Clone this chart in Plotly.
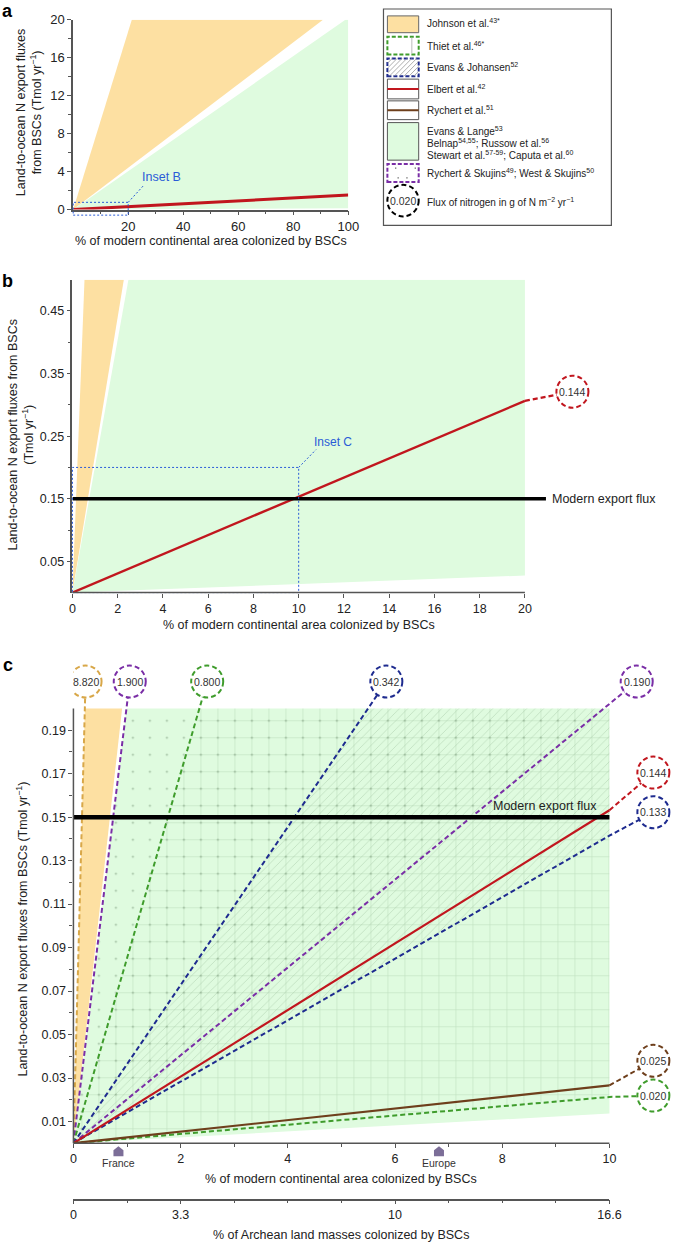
import plotly.graph_objects as go

W, H = 685, 1251

# ------------------------------------------------------------------ data
# N flux rates (g N m^-2 yr^-1) written in the circles of panel c
flux_labels = ["8.820", "1.900", "0.800", "0.342", "0.190", "0.144", "0.133", "0.025", "0.020"]
flux_values = [8.820, 1.900, 0.800, 0.342, 0.190, 0.144, 0.133, 0.025, 0.020]
flux_source = ["Johnson", "Rychert & Skujins", "Thiet", "Evans & Johansen",
               "Rychert & Skujins", "Elbert", "Evans & Johansen", "Rychert", "Thiet"]

# flux ranges (g N m^-2 yr^-1) drawn as shaded wedges
johnson_range = [2.07, 8.82]
crust_range = [0.0128, 1.90]          # Evans & Lange; Belnap; Russow; Stewart; Caputa
thiet_range = [0.020, 0.800]
evans_johansen_range = [0.133, 0.342]
rychert_skujins_range = [0.190, 1.900]

modern_export_flux = 0.15             # Tmol yr^-1
elbert_flux = 0.144

# vertical placement of the right-hand flux circles in panel c (Tmol yr^-1)
right_circle_y = {"0.144": 0.1705, "0.133": 0.1523, "0.025": 0.0379, "0.020": 0.0219}
panel_b_circle = (22.1, 0.321)

landmark_names = ["France", "Europe"]
landmark_pct = [0.84, 6.82]

# tick definitions
a_xticks = [20, 40, 60, 80, 100]
a_xminor = [10, 30, 50, 70, 90]
a_yticks = [0, 4, 8, 12, 16, 20]
a_yminor = [2, 6, 10, 14, 18]
b_xticks = [0, 2, 4, 6, 8, 10, 12, 14, 16, 18, 20]
b_yticks = [0.05, 0.15, 0.25, 0.35, 0.45]
b_yminor = [0.1, 0.2, 0.3, 0.4]
c_xticks = [0, 2, 4, 6, 8, 10]
c_xminor = [1, 3, 5, 7, 9]
c_yticks = [0.01, 0.03, 0.05, 0.07, 0.09, 0.11, 0.13, 0.15, 0.17, 0.19]
c_yminor = [0.02, 0.04, 0.06, 0.08, 0.10, 0.12, 0.14, 0.16, 0.18]
archean_labels = ["0", "3.3", "10", "16.6"]
archean_label_modern = [0, 2, 6, 10]
archean_minor_modern = [1, 3, 4, 5, 7, 8, 9]

legend_rows = [
    "Johnson et al.<sup>43*</sup>",
    "Thiet et al.<sup>46*</sup>",
    "Evans & Johansen<sup>52</sup>",
    "Elbert et al.<sup>42</sup>",
    "Rychert et al.<sup>51</sup>",
    "Evans & Lange<sup>53</sup>",
    "Belnap<sup>54,55</sup>; Russow et al.<sup>56</sup>",
    "Stewart et al.<sup>57-59</sup>; Caputa et al.<sup>60</sup>",
    "Rychert & Skujins<sup>49</sup>; West & Skujins<sup>50</sup>",
    "Flux of nitrogen in g of N m<sup>−2</sup> yr<sup>−1</sup>",
]

# unit conversion: flux (g N m^-2 yr^-1) -> Tmol N yr^-1 per 1 % of modern continental area
CONT_AREA_M2 = 1.49e14
N_MOLAR = 14.007
K = CONT_AREA_M2 * 0.01 / N_MOLAR / 1e12
ARCHEAN_FACTOR = 1.66

# ------------------------------------------------------------------ styles
FONT = "Liberation Sans, Arial, sans-serif"
AXC = "#555555"
ORANGE_FILL = "#FDE0A2"
GREEN_FILL = "#DFFBDF"
RED = "#C1161E"
BROWN = "#6E3F1C"
NAVY = "#1E2B8F"
PURPLE = "#7A2EA6"
GREEN = "#3F9C2C"
GOLD = "#D8A748"
INSET = "#2A5BD7"
LANDMARK = "#7C6E98"
SRC_STYLE = {
    "Johnson": dict(color=GOLD, solid=False),
    "Rychert & Skujins": dict(color=PURPLE, solid=False),
    "Thiet": dict(color=GREEN, solid=False),
    "Evans & Johansen": dict(color=NAVY, solid=False),
    "Elbert": dict(color=RED, solid=True),
    "Rychert": dict(color=BROWN, solid=True),
}
DASH = "5px,3px"

# pixel geometry of the three panels
A_X0, A_X1, A_Y0, A_Y1 = 71.75, 353.0, 205.0, 13.0
B_X0, B_PPU_X = 71.0, 23.13
B_Y0, B_Y1 = 592.7, 276.0
C_X0, C_PPU_X = 72.0, 54.8
C_Y0, C_PPU_Y = 1150.0, 2200.0
C_TOP = 645.0
XB_MAX = (W - B_X0) / B_PPU_X
XC_MAX = (W - C_X0) / C_PPU_X
YC_MAX = (C_Y0 - C_TOP) / C_PPU_Y
TOP_CIRCLE_Y = 0.2124
RIGHT_CIRCLE_X = 10.82
R = 16

fig = go.Figure()


def px_x(v):
    return v / W


def px_y(v):
    return 1 - v / H


def edge_point(slope, xmax, ymax):
    if slope * xmax <= ymax:
        return (xmax, slope * xmax)
    return (ymax / slope, ymax)


def wedge(rng, xmax, ymax):
    lo = edge_point(rng[0] * K, xmax, ymax)
    hi = edge_point(rng[1] * K, xmax, ymax)
    pts = [(0, 0), lo]
    if lo[0] == xmax and hi[1] == ymax and hi[0] < xmax:
        pts.append((xmax, ymax))
    pts += [hi, (0, 0)]
    return pts


def add_fill(pts, xa, ya, color=None, pattern=None):
    kw = dict(x=[p[0] for p in pts], y=[p[1] for p in pts], mode="lines", fill="toself",
              line=dict(width=0, color="rgba(0,0,0,0)"), hoverinfo="skip",
              showlegend=False, xaxis=xa, yaxis=ya)
    if pattern:
        kw["fillcolor"] = "rgba(0,0,0,0)"
        kw["fillpattern"] = pattern
    else:
        kw["fillcolor"] = color
    fig.add_trace(go.Scatter(**kw))


def add_line(xs, ys, xa, ya, color, width, dash=None):
    fig.add_trace(go.Scatter(x=xs, y=ys, mode="lines", xaxis=xa, yaxis=ya,
                             line=dict(color=color, width=width, dash=dash),
                             hoverinfo="skip", showlegend=False))


shapes = []
annotations = []


def circle(xa, ya, cx, cy, color, label):
    shapes.append(dict(type="circle", xref=xa, yref=ya, xsizemode="pixel", ysizemode="pixel",
                       xanchor=cx, yanchor=cy, x0=-R, x1=R, y0=-R, y1=R,
                       line=dict(color=color, width=2, dash=DASH), fillcolor="white",
                       layer="above"))
    annotations.append(dict(xref=xa, yref=ya, x=cx, y=cy, text=label, showarrow=False,
                            xanchor="center", yanchor="middle",
                            font=dict(size=10.5, color="#333")))


# ------------------------------------------------------------------ panel a
add_fill(wedge(johnson_range, 100, 20), "x", "y", ORANGE_FILL)
add_fill(wedge(crust_range, 100, 20), "x", "y", GREEN_FILL)
ea = edge_point(elbert_flux * K, 100, 20)
add_line([0, ea[0]], [0, ea[1]], "x", "y", RED, 3)
shapes.append(dict(type="rect", xref="x domain", yref="y domain", x0=0, x1=20 / 100,
                   y0=-0.59 / 20, y1=0.76 / 20, line=dict(color=INSET, width=1, dash="2px,2px")))
shapes.append(dict(type="line", xref="x domain", yref="y domain", x0=20 / 100, y0=0.76 / 20,
                   x1=25.8 / 100, y1=2.6 / 20, line=dict(color=INSET, width=1, dash="2px,2px")))
annotations.append(dict(xref="x", yref="y", x=24.3, y=3.44, text="Inset B", showarrow=False,
                        xanchor="left", yanchor="middle", font=dict(size=12.5, color=INSET)))

# ------------------------------------------------------------------ panel b
add_fill(wedge(johnson_range, 20, 0.5), "x2", "y2", ORANGE_FILL)
add_fill(wedge(crust_range, 20, 0.5), "x2", "y2", GREEN_FILL)
eb = edge_point(elbert_flux * K, 20, 0.5)
add_line([0, eb[0]], [0, eb[1]], "x2", "y2", RED, 2.4)
add_line([eb[0], panel_b_circle[0]], [eb[1], panel_b_circle[1]], "x2", "y2", RED, 2.2, DASH)
add_line([0, 20.93], [modern_export_flux] * 2, "x2", "y2", "black", 3.6)
circle("x2", "y2", panel_b_circle[0], panel_b_circle[1], RED, "0.144")
annotations.append(dict(xref="x2", yref="y2", x=21.1, y=modern_export_flux,
                        text="Modern export flux", showarrow=False, xanchor="left",
                        yanchor="middle", font=dict(size=12.5, color="#222")))
shapes.append(dict(type="rect", xref="x2 domain", yref="y2 domain", x0=0, x1=10 / XB_MAX,
                   y0=0, y1=0.2 / 0.5, line=dict(color=INSET, width=1, dash="2px,2px")))
shapes.append(dict(type="line", xref="x2 domain", yref="y2 domain", x0=10 / XB_MAX, y0=0.2 / 0.5,
                   x1=10.77 / XB_MAX, y1=0.2286 / 0.5, line=dict(color=INSET, width=1, dash="2px,2px")))
annotations.append(dict(xref="x2", yref="y2", x=10.6, y=0.241, text="Inset C", showarrow=False,
                        xanchor="left", yanchor="middle", font=dict(size=12, color=INSET)))
shapes.append(dict(type="line", xref="x2 domain", yref="y2 domain", x0=0, x1=20 / XB_MAX,
                   y0=0, y1=0, line=dict(color=AXC, width=1.5)))

# ------------------------------------------------------------------ panel c
add_fill(wedge(crust_range, 10, 0.2), "x3", "y3", GREEN_FILL)
add_fill(wedge(johnson_range, 10, 0.2), "x3", "y3", ORANGE_FILL)
add_fill(wedge(thiet_range, 10, 0.2), "x3", "y3",
         pattern=dict(shape="+", size=17, solidity=0.07, fgcolor="rgba(140,180,140,0.38)",
                      bgcolor="rgba(0,0,0,0)", fillmode="replace"))
add_fill(wedge(evans_johansen_range, 10, 0.2), "x3", "y3",
         pattern=dict(shape="/", size=6, solidity=0.15, fgcolor="rgba(160,195,160,0.45)",
                      bgcolor="rgba(0,0,0,0)", fillmode="replace"))
add_fill(wedge(rychert_skujins_range, 10, 0.2), "x3", "y3",
         pattern=dict(shape=".", size=17, solidity=0.01, fgcolor="rgba(110,140,110,0.6)",
                      bgcolor="rgba(0,0,0,0)", fillmode="replace"))

order = [i for i in range(len(flux_values)) if not SRC_STYLE[flux_source[i]]["solid"]] + \
        [i for i in range(len(flux_values)) if SRC_STYLE[flux_source[i]]["solid"]]
for i in order:
    lab, f, src = flux_labels[i], flux_values[i], flux_source[i]
    st = SRC_STYLE[src]
    s = f * K
    e = edge_point(s, 10, 0.2)
    if e[0] < 10:
        c = (TOP_CIRCLE_Y / s, TOP_CIRCLE_Y)
    else:
        c = (RIGHT_CIRCLE_X, right_circle_y[lab])
    if st["solid"]:
        add_line([0, e[0]], [0, e[1]], "x3", "y3", st["color"], 2.2)
        add_line([e[0], c[0]], [e[1], c[1]], "x3", "y3", st["color"], 2, DASH)
    else:
        add_line([0, e[0], c[0]], [0, e[1], c[1]], "x3", "y3", st["color"], 2, DASH)
    circle("x3", "y3", c[0], c[1], st["color"], lab)

add_line([0, 10], [modern_export_flux] * 2, "x3", "y3", "black", 4.5)
annotations.append(dict(xref="x3", yref="y3", x=8.8, y=modern_export_flux, yanchor="bottom",
                        xanchor="center", yshift=2, text="Modern export flux", showarrow=False,
                        font=dict(size=12.5, color="#222")))
# landmarks (France, Europe) under the x axis
for name, pct in zip(landmark_names, landmark_pct):
    shapes.append(dict(type="path", xref="x3 domain", yref="y3 domain",
                       xsizemode="pixel", ysizemode="pixel", xanchor=pct / XC_MAX, yanchor=0,
                       path="M -5,-13 L 5,-13 L 5,-7 L 0,-3 L -5,-7 Z",
                       fillcolor=LANDMARK, line=dict(width=0)))
    annotations.append(dict(xref="x3", yref="y3", x=pct, y=0, yshift=-20, text=name,
                            showarrow=False, xanchor="center", yanchor="middle",
                            font=dict(size=10.5, color="#333")))
shapes.append(dict(type="line", xref="x3 domain", yref="y3 domain", x0=0, x1=10 / XC_MAX,
                   y0=0, y1=0, line=dict(color=AXC, width=1.5)))
shapes.append(dict(type="line", xref="x3 domain", yref="y3 domain", x0=0, x1=0,
                   y0=0, y1=0.2 / YC_MAX, line=dict(color=AXC, width=1.5)))
# carrier trace for the Archean axis
fig.add_trace(go.Scatter(x=[0], y=[0], mode="markers", marker=dict(opacity=0),
                         xaxis="x4", yaxis="y3", hoverinfo="skip", showlegend=False))

# ------------------------------------------------------------------ legend (drawn key)
def prect(x0, y0, x1, y1, **kw):
    d = dict(type="rect", xref="paper", yref="paper", x0=px_x(x0), x1=px_x(x1),
             y0=px_y(y1), y1=px_y(y0))
    d.update(kw)
    shapes.append(d)


def pline(x0, y0, x1, y1, **kw):
    d = dict(type="line", xref="paper", yref="paper", x0=px_x(x0), x1=px_x(x1),
             y0=px_y(y0), y1=px_y(y1))
    d.update(kw)
    shapes.append(d)


SX0, SX1 = 393, 425
prect(389, 2, 622, 221, line=dict(color="#555", width=1.2))
prect(SX0, 9, SX1, 26, fillcolor=ORANGE_FILL, line=dict(color="#666", width=1))
prect(SX0, 30, SX1, 48, fillcolor="white", line=dict(color=GREEN, width=2, dash="4px,2px"))
pline(418, 31, 418, 47, line=dict(color="#bbb", width=1))
prect(SX0, 52, SX1, 70, fillcolor="white", line=dict(color=NAVY, width=2, dash="4px,2px"))
for d in range(-18, 32, 5):
    t0 = max(0.0, -d / 18)
    t1 = min(1.0, (SX1 - SX0 - d) / 18)
    if t1 > t0:
        pline(SX0 + d + 18 * t0, 70 - 18 * t0, SX0 + d + 18 * t1, 70 - 18 * t1,
              line=dict(color="#999", width=0.8))
prect(SX0, 73, SX1, 93, line=dict(color="#555", width=1))
pline(SX0, 83, SX1, 83, line=dict(color=RED, width=2))
prect(SX0, 95, SX1, 114, line=dict(color="#555", width=1))
pline(SX0, 104.5, SX1, 104.5, line=dict(color=BROWN, width=2))
prect(SX0, 117, SX1, 155, fillcolor=GREEN_FILL, line=dict(color="#555", width=1))
prect(SX0, 159, SX1, 177, fillcolor="white", line=dict(color=PURPLE, width=2, dash="4px,2px"))
for (dx, dy) in [(401.5, 163), (413, 173), (421.5, 163), (404, 173)]:
    prect(dx - 0.6, dy - 0.6, dx + 0.6, dy + 0.6, fillcolor="#555", line=dict(width=0))
shapes.append(dict(type="circle", xref="paper", yref="paper", x0=px_x(393), x1=px_x(425),
                   y0=px_y(212), y1=px_y(180), line=dict(color="black", width=2, dash=DASH)))
annotations.append(dict(xref="paper", yref="paper", x=px_x(409), y=px_y(196), text="0.020",
                        showarrow=False, xanchor="center", yanchor="middle",
                        font=dict(size=10.5, color="#333")))
leg_y = [16, 39, 61, 82.5, 104.5, 125, 137.5, 150, 168.5, 197]
for txt, yy in zip(legend_rows, leg_y):
    annotations.append(dict(xref="paper", yref="paper", x=px_x(431), y=px_y(yy), text=txt,
                            showarrow=False, xanchor="left", yanchor="middle",
                            font=dict(size=10, color="#222")))

# ------------------------------------------------------------------ titles & panel letters
def ptext(x, y, text, size=12, angle=0, color="#222"):
    annotations.append(dict(xref="paper", yref="paper", x=px_x(x), y=px_y(y), text=text,
                            showarrow=False, textangle=angle, xanchor="center",
                            yanchor="middle", font=dict(size=size, color=color)))


ptext(5, 4, "<b>a</b>", 18, color="black")
ptext(5, 277, "<b>b</b>", 18, color="black")
ptext(5, 666, "<b>c</b>", 18, color="black")
ptext(26, 107, "Land-to-ocean N export fluxes<br>from BSCs (Tmol yr<sup>−1</sup>)", 12.5, -90)
ptext(18, 433, "Land-to-ocean N export fluxes from BSCs<br>(Tmol yr<sup>−1</sup>)", 12.5, -90)
ptext(19, 933, "Land-to-ocean N export fluxes from BSCs (Tmol yr<sup>−1</sup>)", 12.5, -90)
ptext(213, 237, "% of modern continental area colonized by BSCs", 12.5)
ptext(303, 625, "% of modern continental area colonized by BSCs", 12.5)
ptext(346, 1186, "% of modern continental area colonized by BSCs", 12.5)
ptext(346, 1243, "% of Archean land masses colonized by BSCs", 12.5)

# ------------------------------------------------------------------ axes
AX = dict(showgrid=False, zeroline=False, ticks="outside", ticklen=4, tickwidth=1,
          tickcolor=AXC, linecolor=AXC, linewidth=1.5, fixedrange=True,
          tickfont=dict(size=12.5, color="#222"))


def minor(vals):
    return dict(tickvals=vals, ticks="outside", ticklen=3, tickcolor=AXC, tickwidth=1, showgrid=False)


fig.update_layout(
    width=W, height=H, margin=dict(l=0, r=0, t=0, b=0),
    paper_bgcolor="white", plot_bgcolor="rgba(0,0,0,0)",
    font=dict(family=FONT, color="#222"), showlegend=False,
    xaxis=dict(AX, domain=[px_x(A_X0), px_x(A_X1)], range=[0, 100], anchor="y",
               tickvals=a_xticks, minor=minor(a_xminor), showline=True,
               tickfont=dict(size=13, color="#222")),
    yaxis=dict(AX, domain=[px_y(A_Y0), px_y(A_Y1)], range=[0, 20], anchor="x",
               tickvals=a_yticks, minor=minor(a_yminor), showline=True,
               tickfont=dict(size=13, color="#222")),
    xaxis2=dict(AX, domain=[px_x(B_X0), 1], range=[0, XB_MAX], anchor="y2",
                tickvals=b_xticks, showline=False),
    yaxis2=dict(AX, domain=[px_y(B_Y0), px_y(B_Y1)], range=[0, 0.5], anchor="x2",
                tickvals=b_yticks, ticktext=[f"{v:.2f}" for v in b_yticks],
                minor=minor(b_yminor), showline=True),
    xaxis3=dict(AX, domain=[px_x(C_X0), 1], range=[0, XC_MAX], anchor="y3",
                tickvals=c_xticks, minor=minor(c_xminor), showline=False),
    yaxis3=dict(AX, domain=[px_y(C_Y0), px_y(C_TOP)], range=[0, YC_MAX], anchor="x3",
                tickvals=c_yticks, ticktext=[f"{v:.2f}" for v in c_yticks],
                minor=minor(c_yminor), showline=False),
    xaxis4=dict(AX, domain=[px_x(C_X0), px_x(C_X0 + 10 * C_PPU_X)],
                range=[0, 10 * ARCHEAN_FACTOR], anchor="free", position=px_y(1207),
                tickvals=[m * ARCHEAN_FACTOR for m in archean_label_modern],
                ticktext=archean_labels,
                minor=minor([m * ARCHEAN_FACTOR for m in archean_minor_modern]),
                showline=True),
    shapes=shapes, annotations=annotations,
)

# remove the browser's default 8px body margin so the figure fills the window exactly
fig.write_html("out.html", config={"displayModeBar": False},
               post_script="document.body.style.margin='0';document.body.style.overflow='hidden';")
